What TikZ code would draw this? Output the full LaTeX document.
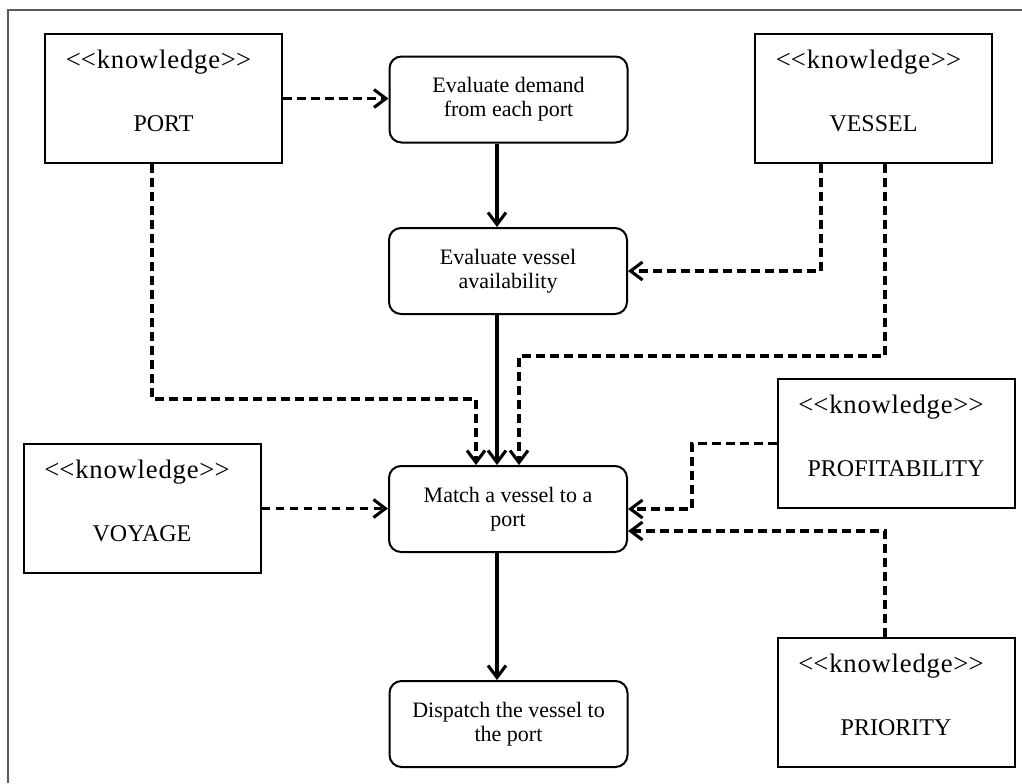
\documentclass[tikz,border=0pt]{standalone}
\usepackage{fontspec}
\setmainfont{Liberation Serif}
\newfontfamily\stereofont{Liberation Serif}[LetterSpace=3]
\usetikzlibrary{arrows.meta,calc}

\begin{document}
\begin{tikzpicture}[x=0.75pt,y=-0.75pt,
  kbox/.style={draw,line width=1.5pt,minimum width=177.75pt,minimum height=96.75pt,inner sep=0pt},
  stereo/.style={font=\stereofont\fontsize{20}{24}\selectfont,anchor=base,inner sep=0pt},
  kname/.style={font=\fontsize{18}{20}\selectfont,anchor=base,inner sep=0pt},
  taskbox/.style={draw,line width=1.5pt,rounded corners=9pt,minimum width=178.5pt,minimum height=64.5pt,
    align=center,font=\fontsize{16.5}{18}\selectfont},
  flow/.style={line width=2.3pt,-{Straight Barb[length=9pt,width=13.5pt,line width=2.3pt]}},
  dep/.style={flow,dash pattern=on 6.5pt off 4pt},
]
\useasboundingbox (0,0) rectangle (1022,783);

% outer frame (open to the right and bottom)
\draw[line width=0.8pt,black!65] (8,783) -- (8,10) -- (1022,10);

% knowledge sources
\node[kbox] (port)     at (163.5,98.5) {};
\node[kbox] (vessel)   at (873.5,98.5) {};
\node[kbox] (voyage)   at (142,508.5)  {};
\node[kbox] (profit)   at (896,443.5)  {};
\node[kbox] (priority) at (896,702.5)  {};

\foreach \k/\name in {port/PORT,vessel/VESSEL,voyage/VOYAGE,profit/PROFITABILITY,priority/PRIORITY}{
  \node[stereo] (\k-st) at ($(\k.north)+(-5,35)$) {<\kern0pt<knowledge>\kern0pt>};
  \node[kname] (\k-nm) at ($(\k.north)+(0,98)$) {\name};
}

% process steps
\node[taskbox] (demand)   at (508.5,99.5) {Evaluate demand\\from each port};
\node[taskbox] (avail)    at (508,271)    {Evaluate vessel\\availability};
\node[taskbox] (match)    at (508,509)    {Match a vessel to a\\port};
\node[taskbox] (dispatch) at (508.5,724)  {Dispatch the vessel to\\the port};

% control flow
\draw[flow] ($(demand.south)+(-11.5,0)$) -- ($(avail.north)+(-11,0)$);
\draw[flow] ($(avail.south)+(-11,0)$) -- ($(match.north)+(-11,0)$);
\draw[flow] ($(match.south)+(-11,0)$) -- ($(dispatch.north)+(-11.5,0)$);

% knowledge dependencies
\draw[dep] (port.east) -- (port.east -| demand.west);
\draw[dep] ($(port.south)+(-11.5,0)$) |- ($(match.north)+(-32,-66)$) -- ($(match.north)+(-32,0)$);
\draw[dep] ($(vessel.south)+(-52.5,0)$) |- (avail.east);
\draw[dep] ($(vessel.south)+(11.5,0)$) |- ($(match.north)+(11,-109)$) -- ($(match.north)+(11,0)$);
\draw[dep] (profit.west) -| ($(match.east)+(64,0)$) -- (match.east);
\draw[dep] ($(priority.north)+(-11,0)$) |- ($(match.east)+(0,22)$);
\draw[dep] (voyage.east) -- (voyage.east -| match.west);
\end{tikzpicture}
\end{document}
